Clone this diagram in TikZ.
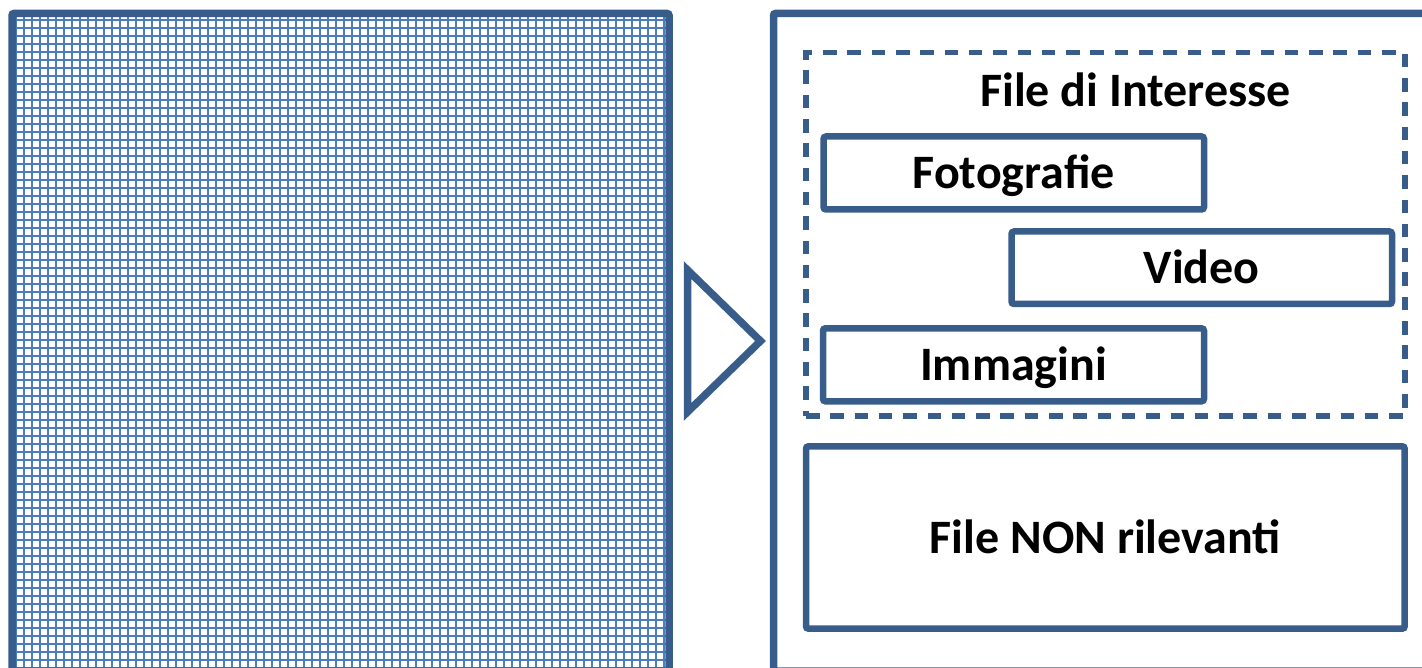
\documentclass[tikz,border=0pt]{standalone}
\usepackage{fontspec}
\setmainfont{Carlito}
\definecolor{frame}{HTML}{385D8A}
\definecolor{gridblue}{HTML}{4A7EC0}
\tikzset{
  panel/.style={draw=frame, line width=7.5pt, rounded corners=2pt},
  itembox/.style={draw=frame, line width=6.5pt, rounded corners=2.5pt, inner sep=0pt,
    font=\fontsize{48}{56}\selectfont\bfseries, text height=31pt, text depth=0pt},
  groupbox/.style={draw=frame, line width=5.5pt, dash pattern=on 13.5pt off 10.8pt, inner sep=0pt},
  label/.style={font=\fontsize{48}{56}\selectfont\bfseries, inner sep=0pt}
}
\begin{document}
\begin{tikzpicture}[x=1pt,y=-1pt]
\useasboundingbox (0,0) rectangle (1422,668);

% hatched source block
\begin{scope}
  \clip (15,17) rectangle (666,668);
  \foreach \i in {0,...,82} {
    \draw[gridblue, line width=2.3pt] (16+8*\i,17) -- (16+8*\i,668);
    \draw[gridblue, line width=2.3pt] (15,20+8*\i) -- (666,20+8*\i);
  }
\end{scope}
\draw[panel] (12,671) -- (12,13.5) -- (669,13.5) -- (669,671) -- cycle;

% arrow between the two blocks
\coordinate (tA) at (687.5,270);
\coordinate (tB) at (687.5,412);
\coordinate (tC) at (760.5,341);
\draw[draw=frame, line width=7.5pt, miter limit=10] (tA) -- (tC) -- (tB) -- cycle;

% result block
\draw[panel] (773.5,671) -- (773.5,13.5) -- (1440,13.5) -- (1440,671) -- cycle;

% files of interest group
\node[groupbox, minimum width=599pt, minimum height=363.5pt] (group) at (1105.5,234.25) {};
\node[label, anchor=base] (title) at (1135.5,107) {File di Interesse};

\node[itembox, minimum width=380.5pt, minimum height=73pt] (foto) at (1013.75,173) {Fotografie};
\node[itembox, minimum width=380.5pt, minimum height=72.5pt] (video) at (1201.75,267.75) {Video};
\node[itembox, minimum width=381pt, minimum height=73pt] (img) at (1013.5,364.8) {Immagini};

% irrelevant files
\node[itembox, minimum width=598.7pt, minimum height=182.4pt] (other) at (1105.35,537.5) {File NON rilevanti};
\end{tikzpicture}
\end{document}
